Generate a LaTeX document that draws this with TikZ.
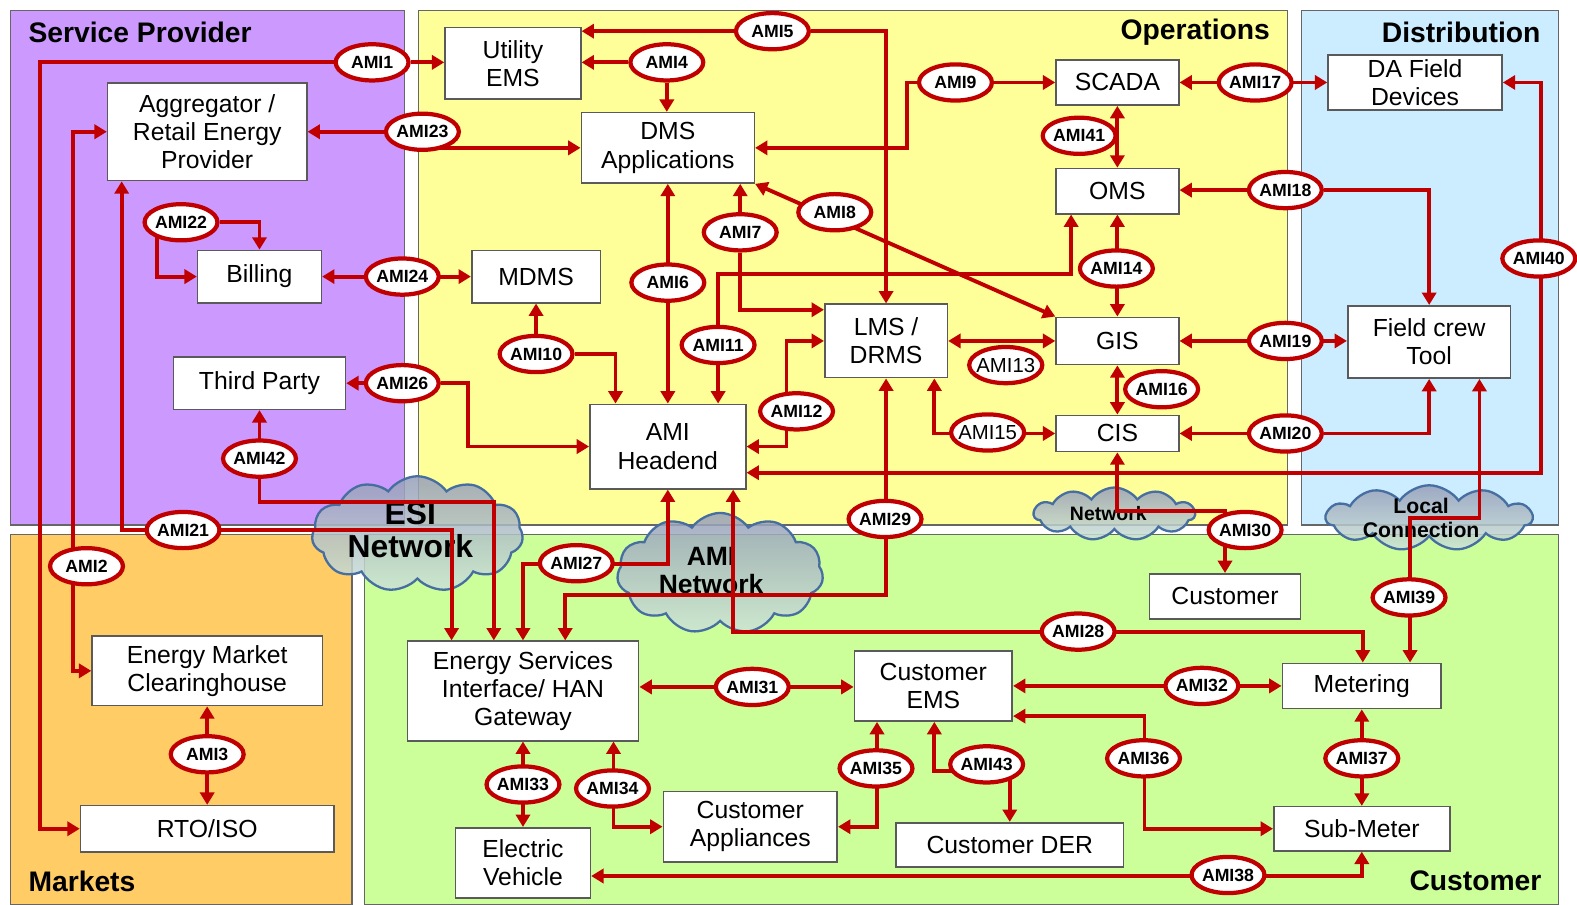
\documentclass[tikz,border=0pt]{standalone}
\usepackage{fontspec}
\setmainfont{Liberation Sans}
\usetikzlibrary{arrows.meta,shapes.geometric,shapes.symbols}

\definecolor{amired}{RGB}{192,0,0}
\definecolor{boxgray}{RGB}{90,90,90}
\definecolor{spurple}{RGB}{204,153,255}
\definecolor{opyellow}{RGB}{255,255,153}
\definecolor{distblue}{RGB}{204,236,255}
\definecolor{mkorange}{RGB}{255,204,102}
\definecolor{custgreen}{RGB}{204,255,153}
\definecolor{cloudblue}{RGB}{70,110,160}
\definecolor{cloudtop}{RGB}{150,158,185}
\definecolor{cloudbot}{RGB}{205,228,215}

\pgfdeclarelayer{back}
\pgfdeclarelayer{wires}
\pgfsetlayers{back,wires,main}

\begin{document}
\begin{tikzpicture}[x=0.02cm, y=-0.02cm, >={Triangle[length=7pt,width=8pt]},
    region/.style={draw=gray!80!black, line width=0.6pt},
    box/.style={draw=boxgray, fill=white, line width=0.9pt, align=center, inner sep=0pt, font=\fontsize{14}{16}\selectfont},
    ami/.style={ellipse, draw=amired, fill=white, line width=2.4pt, minimum width=1.45cm, minimum height=0.72cm, inner xsep=-2pt, inner ysep=0pt, font=\bfseries\fontsize{10}{11}\selectfont},
    amiplain/.style={ami, font=\fontsize{11.5}{12}\selectfont},
    link/.style={draw=amired, line width=2.2pt},
    title/.style={inner sep=0pt, font=\bfseries\fontsize{16}{18}\selectfont},
    net/.style={cloud, cloud puffs=11, cloud puff arc=110, cloud ignores aspect, draw=cloudblue, line width=1.3pt, top color=cloudtop, bottom color=cloudbot, fill opacity=0.85, inner sep=0pt},
    nettxt/.style={align=center, inner sep=0pt}]
    \useasboundingbox (0,0) rectangle (1568,899);

    \begin{pgfonlayer}{back}
    % domains
    \fill[region, fill=spurple] (10,10) rectangle (402,522);
    \fill[region, fill=opyellow] (416,10) rectangle (1280,522);
    \fill[region, fill=distblue] (1294,10) rectangle (1550,522);
    \fill[region, fill=mkorange] (10,531) rectangle (350,899);
    \fill[region, fill=custgreen] (362,531) rectangle (1550,899);
    \draw[region] (10,10) rectangle (402,522) (416,10) rectangle (1280,522) (1294,10) rectangle (1550,522)
        (10,531) rectangle (350,899) (362,531) rectangle (1550,899);

    % networks
    \node[net, minimum width=4.2cm, minimum height=2.3cm] (esinet) at (415,531) {};
    \node[net, minimum width=4.1cm, minimum height=2.4cm] (aminet) at (716,570) {};
    \node[net, minimum width=3.2cm, minimum height=1.05cm] (opnet) at (1108,511) {};
    \node[net, minimum width=4.1cm, minimum height=1.3cm] (localnet) at (1421,515) {};
    \node[nettxt, font=\bfseries\fontsize{18}{19}\selectfont] (esitxt) at (408,527) {ESI\\Network};
    \node[nettxt, font=\bfseries\fontsize{15}{16}\selectfont] (amitxt) at (707,567) {AMI\\Network};
    \node[nettxt, font=\bfseries\fontsize{11}{12}\selectfont] (optxt) at (1102,511) {Network};
    \node[nettxt, font=\bfseries\fontsize{12}{14}\selectfont] (localtxt) at (1413,515) {Local\\Connection};

    % domain titles
    \node[title, anchor=west] (tsp) at (28,32) {Service Provider};
    \node[title, anchor=east] (tops) at (1263,32) {Operations};
    \node[title, anchor=east] (tdist) at (1532,32) {Distribution};
    \node[title, anchor=west] (tmkt) at (28,876) {Markets};
    \node[title, anchor=east] (tcust) at (1533,876) {Customer};
    \end{pgfonlayer}

    % systems
    \node[box, minimum width=2.7cm, minimum height=1.42cm] (uems) at (510,63) {Utility\\EMS};
    \node[box, minimum width=3.96cm, minimum height=1.94cm] (agg) at (206,131) {Aggregator /\\Retail Energy\\Provider};
    \node[box, minimum width=3.44cm, minimum height=1.4cm] (dms) at (664,147) {DMS\\Applications};
    \node[box, minimum width=2.44cm, minimum height=0.9cm] (scada) at (1111,82) {SCADA};
    \node[box, minimum width=3.46cm, minimum height=1.1cm] (dafd) at (1407,82) {DA Field\\Devices};
    \node[box, minimum width=2.44cm, minimum height=0.9cm] (oms) at (1111,190) {OMS};
    \node[box, minimum width=2.46cm, minimum height=1.04cm] (billing) at (258,275) {Billing};
    \node[box, minimum width=2.56cm, minimum height=1.04cm] (mdms) at (533,275) {MDMS};
    \node[box, minimum width=2.44cm, minimum height=1.46cm] (lms) at (881,339) {LMS /\\DRMS};
    \node[box, minimum width=2.44cm, minimum height=0.94cm] (gis) at (1111,339) {GIS};
    \node[box, minimum width=3.24cm, minimum height=1.44cm] (fct) at (1421,340) {Field crew\\Tool};
    \node[box, minimum width=3.42cm, minimum height=1.04cm] (third) at (258,381) {Third Party};
    \node[box, minimum width=3.1cm, minimum height=1.68cm] (amihe) at (664,444) {AMI\\Headend};
    \node[box, minimum width=2.44cm, minimum height=0.72cm] (cis) at (1111,431) {CIS};
    \node[box, minimum width=3.0cm, minimum height=0.9cm] (cust) at (1218,593) {Customer};
    \node[box, minimum width=4.58cm, minimum height=1.38cm] (emc) at (206,667) {Energy Market\\Clearinghouse};
    \node[box, minimum width=4.6cm, minimum height=1.98cm] (esi) at (520,687) {Energy Services\\Interface/ HAN\\Gateway};
    \node[box, minimum width=3.14cm, minimum height=1.4cm] (cems) at (928,682) {Customer\\EMS};
    \node[box, minimum width=3.16cm, minimum height=0.9cm] (meter) at (1354,682) {Metering};
    \node[box, minimum width=3.46cm, minimum height=1.4cm] (capp) at (746,822) {Customer\\Appliances};
    \node[box, minimum width=4.52cm, minimum height=0.88cm] (cder) at (1004,840) {Customer DER};
    \node[box, minimum width=3.5cm, minimum height=0.88cm] (submeter) at (1354,824) {Sub-Meter};
    \node[box, minimum width=5.04cm, minimum height=0.92cm] (rto) at (206,824) {RTO/ISO};
    \node[box, minimum width=2.68cm, minimum height=1.4cm] (ev) at (520,858) {Electric\\Vehicle};

    % interface labels
    \node[ami] (ami1) at (370,62) {AMI1};
    \node[ami] (ami2) at (86,563) {AMI2};
    \node[ami] (ami3) at (206,750) {AMI3};
    \node[ami] (ami4) at (663,62) {AMI4};
    \node[ami] (ami5) at (768,31) {AMI5};
    \node[ami] (ami6) at (664,281) {AMI6};
    \node[ami] (ami7) at (736,231) {AMI7};
    \node[ami] (ami8) at (830,211) {AMI8};
    \node[ami] (ami9) at (950,82) {AMI9};
    \node[ami] (ami10) at (533,352) {AMI10};
    \node[ami] (ami11) at (714,343) {AMI11};
    \node[ami] (ami12) at (792,409) {AMI12};
    \node[amiplain] (ami13) at (1000,363) {AMI13};
    \node[ami] (ami14) at (1110,267) {AMI14};
    \node[amiplain] (ami15) at (982,430) {AMI15};
    \node[ami] (ami16) at (1155,387) {AMI16};
    \node[ami] (ami17) at (1248,82) {AMI17};
    \node[ami] (ami18) at (1278,189) {AMI18};
    \node[ami] (ami19) at (1278,339) {AMI19};
    \node[ami] (ami20) at (1278,431) {AMI20};
    \node[ami] (ami21) at (182,527) {AMI21};
    \node[ami] (ami22) at (180,221) {AMI22};
    \node[ami] (ami23) at (420,131) {AMI23};
    \node[ami] (ami24) at (400,275) {AMI24};
    \node[ami] (ami26) at (400,381) {AMI26};
    \node[ami] (ami27) at (573,560) {AMI27};
    \node[ami] (ami28) at (1072,628) {AMI28};
    \node[ami] (ami29) at (880,516) {AMI29};
    \node[ami] (ami30) at (1238,527) {AMI30};
    \node[ami] (ami31) at (748,683) {AMI31};
    \node[ami] (ami32) at (1195,682) {AMI32};
    \node[ami] (ami33) at (520,780) {AMI33};
    \node[ami] (ami34) at (609,784) {AMI34};
    \node[ami] (ami35) at (871,764) {AMI35};
    \node[ami] (ami36) at (1137,754) {AMI36};
    \node[ami] (ami37) at (1354,754) {AMI37};
    \node[ami] (ami38) at (1221,870) {AMI38};
    \node[ami] (ami39) at (1401,594) {AMI39};
    \node[ami] (ami40) at (1530,257) {AMI40};
    \node[ami] (ami41) at (1073,135) {AMI41};
    \node[ami] (ami42) at (258,456) {AMI42};
    \node[ami] (ami43) at (981,760) {AMI43};

    % interfaces
    \begin{pgfonlayer}{wires}
    \draw[link,->] (ami1) -- (uems.west |- ami1);
    \draw[link,->] (ami1) -- (40,62) |- (rto.west);
    \draw[link,<->] (agg.west) -| (73,400) |- (emc.west);
    \draw[link,<->] (emc.south) -- (rto.north);
    \draw[link,->] (ami4) -- (uems.east |- ami4);
    \draw[link,->] (ami4) -- (ami4 |- dms.north);
    \draw[link,->] (ami5) -- (uems.east |- ami5);
    \draw[link,->] (ami5) -| (lms.north);
    \draw[link,<->] (dms.south) -- (amihe.north);
    \draw[link,->] (ami7) -- (ami7 |- dms.south);
    \draw[link,->] (ami7) |- (lms.west |- 0,308);
    \draw[link,<->] (dms.south east) -- (gis.north west);
    \draw[link,->] (ami9) -- (scada.west);
    \draw[link,->] (ami9) -- (902,82) |- (dms.east);
    \draw[link,->] (ami10) -- (mdms.south);
    \draw[link,->] (ami10) -| (amihe.north -| 612,0);
    \draw[link,->] (ami11) -- (ami11 |- amihe.north);
    \draw[link,->] (ami11) |- (1065,272) -- (oms.south -| 1065,0);
    \draw[link,<->] (amihe.east) -| (782,400) |- (lms.west);
    \draw[link,<->] (lms.east) -- (gis.west);
    \draw[link,<->] (oms.south) -- (gis.north);
    \draw[link,<->] (lms.south -| 929,0) |- (cis.west);
    \draw[link,<->] (gis.south) -- (cis.north);
    \draw[link,<->] (scada.east) -- (dafd.west);
    \draw[link,->] (ami18) -- (oms.east |- ami18);
    \draw[link,->] (ami18) -| (fct.north);
    \draw[link,<->] (gis.east) -- (fct.west |- gis.east);
    \draw[link,->] (ami20) -- (cis.east |- ami20);
    \draw[link,->] (ami20) -| (fct.south);
    \draw[link,<->] (agg.south -| 121,0) |- (449,527) -- (esi.north -| 449,0);
    \draw[link,->] (ami22) -| (billing.north);
    \draw[link,->] (ami22 -| 156,0) |- (billing.west);
    \draw[link,->] (ami23) -- (agg.east |- ami23);
    \draw[link,->] (ami23 |- dms.west) -- (dms.west);
    \draw[link,<->] (billing.east) -- (mdms.west);
    \draw[link,->] (ami26) -- (third.east |- ami26);
    \draw[link,->] (ami26) -| (465,420) |- (amihe.west);
    \draw[link,<->] (amihe.south) |- (520,561) -- (esi.north);
    \draw[link,<->] (amihe.south -| 729,0) |- (1355,628) -- (meter.north -| 1355,0);
    \draw[link,<->] (lms.south) |- (562,592) -- (esi.north -| 562,0);
    \draw[link,<->] (cis.south) |- (1218,508) -- (cust.north);
    \draw[link,<->] (esi.east |- ami31) -- (cems.west |- ami31);
    \draw[link,<->] (cems.east) -- (meter.west);
    \draw[link,<->] (esi.south) -- (ev.north);
    \draw[link,<->] (esi.south -| 610,0) |- (capp.west);
    \draw[link,<->] (cems.south -| 872,0) |- (capp.east);
    \draw[link,<->] (cems.east |- 0,712) -| (1138,760) |- (submeter.west);
    \draw[link,<->] (meter.south) -- (submeter.north);
    \draw[link,<->] (ev.east |- 0,871) -| (submeter.south);
    \draw[link,<->] (fct.south -| 1471,0) |- (1402,515) -- (meter.north -| 1402,0);
    \draw[link,<->] (amihe.east |- 0,470) -| (1532,200) |- (dafd.east);
    \draw[link,<->] (scada.south) -- (oms.north);
    \draw[link,<->] (third.south) |- (491,499) -- (esi.north -| 491,0);
    \draw[link,<->] (cems.south -| 929,0) |- (1004,767) -- (cder.north);
    \end{pgfonlayer}
\end{tikzpicture}
\end{document}
